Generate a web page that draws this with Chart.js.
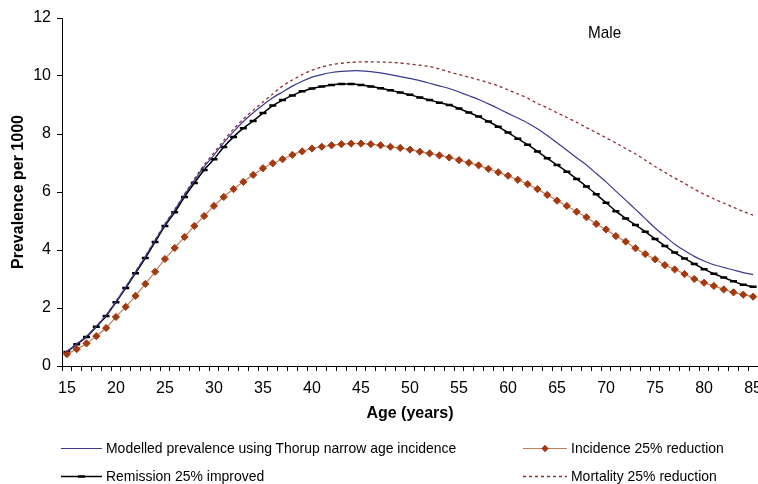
<!DOCTYPE html>
<html>
<head>
<meta charset="utf-8">
<script src="https://cdn.jsdelivr.net/npm/chart.js@4.4.1/dist/chart.umd.min.js"></script>
<style>
    html, body { margin: 0; padding: 0; background: #fff; }
    body { width: 758px; height: 484px; overflow: hidden; position: relative; }
    #wrap { position: absolute; left: 0; top: 0; width: 790px; height: 484px; }
    .txt { position: absolute; font-family: 'Liberation Sans Narrow', 'Liberation Sans', Arial, sans-serif; color: #000; white-space: nowrap; }
    #male { left: 588px; top: 23px; font-size: 17px; transform: scaleX(0.9); transform-origin: left center; }
    .leg { position: absolute; height: 20px; font-family: 'Liberation Sans Narrow', 'Liberation Sans', Arial, sans-serif; font-size: 15px; white-space: nowrap; }
    .leg svg { position: absolute; top: 0; }
    .leg span { position: absolute; top: 1px; transform: scaleX(0.93); transform-origin: left center; }
</style>
</head>
<body>
<div id="wrap"><canvas id="chart-area"></canvas></div>
<div class="txt" id="male">Male</div>
<div id="legend"></div>
<script>
// ages 15..85
var ages = [15, 16, 17, 18, 19, 20, 21, 22, 23, 24, 25, 26, 27, 28, 29, 30, 31, 32, 33, 34, 35,
    36, 37, 38, 39, 40, 41, 42, 43, 44, 45, 46, 47, 48, 49, 50, 51, 52, 53, 54, 55,
    56, 57, 58, 59, 60, 61, 62, 63, 64, 65, 66, 67, 68, 69, 70, 71, 72, 73, 74, 75,
    76, 77, 78, 79, 80, 81, 82, 83, 84, 85];

var modelled = [0.50, 0.76, 1.02, 1.37, 1.75, 2.22, 2.72, 3.24, 3.77, 4.33, 4.88, 5.38, 5.90, 6.40, 6.87, 7.27, 7.70, 8.08, 8.43, 8.73, 9.00,
    9.25, 9.45, 9.65, 9.82, 9.96, 10.05, 10.12, 10.16, 10.18, 10.18, 10.15, 10.11, 10.05, 9.98, 9.92, 9.84, 9.75, 9.66, 9.57, 9.45,
    9.32, 9.19, 9.04, 8.88, 8.71, 8.55, 8.38, 8.18, 7.95, 7.70, 7.44, 7.18, 6.93, 6.64, 6.35, 6.03, 5.72, 5.40, 5.08, 4.76,
    4.48, 4.20, 3.98, 3.78, 3.62, 3.49, 3.40, 3.31, 3.22, 3.15];

var incidence = [0.41, 0.58, 0.78, 1.03, 1.31, 1.69, 2.04, 2.42, 2.83, 3.25, 3.69, 4.07, 4.45, 4.83, 5.17, 5.52, 5.83, 6.10, 6.35, 6.59, 6.82,
    6.99, 7.13, 7.28, 7.40, 7.50, 7.56, 7.61, 7.65, 7.67, 7.67, 7.65, 7.61, 7.56, 7.52, 7.46, 7.39, 7.33, 7.26, 7.19, 7.10,
    7.01, 6.92, 6.80, 6.68, 6.56, 6.42, 6.27, 6.10, 5.90, 5.70, 5.52, 5.32, 5.13, 4.90, 4.71, 4.48, 4.29, 4.06, 3.86, 3.68,
    3.48, 3.33, 3.17, 3.00, 2.87, 2.76, 2.64, 2.54, 2.46, 2.39];

var remission = [0.48, 0.75, 1.00, 1.35, 1.72, 2.20, 2.69, 3.20, 3.72, 4.28, 4.83, 5.30, 5.83, 6.31, 6.76, 7.13, 7.55, 7.90, 8.20, 8.45, 8.72,
    8.98, 9.17, 9.33, 9.47, 9.57, 9.64, 9.69, 9.72, 9.72, 9.69, 9.64, 9.58, 9.51, 9.43, 9.35, 9.26, 9.17, 9.08, 9.00, 8.88,
    8.74, 8.60, 8.43, 8.25, 8.05, 7.84, 7.63, 7.40, 7.16, 6.93, 6.70, 6.45, 6.19, 5.92, 5.63, 5.34, 5.09, 4.86, 4.63, 4.38,
    4.14, 3.91, 3.71, 3.52, 3.34, 3.18, 3.05, 2.92, 2.80, 2.73];

var mortality = [0.50, 0.76, 1.02, 1.37, 1.75, 2.22, 2.72, 3.25, 3.78, 4.35, 4.90, 5.40, 5.93, 6.45, 6.93, 7.35, 7.78, 8.17, 8.52, 8.82, 9.10,
    9.38, 9.66, 9.86, 10.05, 10.20, 10.31, 10.39, 10.44, 10.47, 10.49, 10.49, 10.48, 10.47, 10.45, 10.41, 10.37, 10.33, 10.24, 10.14, 10.05,
    9.96, 9.87, 9.77, 9.66, 9.52, 9.38, 9.24, 9.05, 8.90, 8.73, 8.57, 8.40, 8.22, 8.05, 7.87, 7.69, 7.50, 7.31, 7.10, 6.88,
    6.68, 6.48, 6.30, 6.10, 5.92, 5.76, 5.62, 5.47, 5.33, 5.20];

var yTicks = [0, 2, 4, 6, 8, 10, 12];

var seriesLabels = ['Modelled prevalence using Thorup narrow age incidence', 'Incidence 25% reduction',
    'Remission 25% improved', 'Mortality 25% reduction'];

var narrow = "'Liberation Sans Narrow', 'Liberation Sans', Arial, sans-serif";

var config = {
    type: 'line',
    data: {
        labels: ages,
        datasets: [{
            label: seriesLabels[0],
            data: modelled,
            borderColor: '#3a3a90',
            borderWidth: 1.2,
            pointRadius: 0,
            tension: 0.2
        }, {
            label: seriesLabels[1],
            data: incidence,
            borderColor: '#c0805c',
            borderWidth: 1.2,
            pointStyle: 'rectRot',
            pointRadius: 3.6,
            pointBackgroundColor: '#a3390f',
            pointBorderColor: '#a3390f',
            pointBorderWidth: 1,
            tension: 0.2
        }, {
            label: seriesLabels[2],
            data: remission,
            borderColor: '#000',
            borderWidth: 1.5,
            pointStyle: 'line',
            pointRadius: 3.5,
            pointBorderColor: '#000',
            pointBorderWidth: 2.5,
            tension: 0.2
        }, {
            label: seriesLabels[3],
            data: mortality,
            borderColor: '#8e2d2d',
            borderWidth: 1.3,
            borderDash: [3, 3],
            pointRadius: 0,
            tension: 0.2
        }]
    },
    options: {
        responsive: true,
        maintainAspectRatio: false,
        animation: false,
        layout: {padding: {left: 0, top: 18, right: 32, bottom: 0}},
        plugins: {legend: {display: false}, tooltip: {enabled: false}},
        scales: {
            x: {
                type: 'category',
                offset: true,
                grid: {offset: true, drawOnChartArea: false, drawTicks: true, tickLength: 5, color: '#000'},
                border: {display: true, color: '#000', width: 1},
                ticks: {
                    autoSkip: false, maxRotation: 0, minRotation: 0, padding: 8, color: '#000',
                    font: {family: narrow, size: 16},
                    callback: function (val, idx) {
                        var a = ages[idx];
                        return a % 5 === 0 ? String(a) : '';
                    }
                },
                title: {display: true, text: 'Age (years)', color: '#000', font: {family: narrow, size: 16, weight: 'bold'}, padding: {top: 0, bottom: 61}},
                afterFit: function (scale) { scale.height = 118; }
            },
            y: {
                min: 0,
                max: 12,
                afterBuildTicks: function (axis) { axis.ticks = yTicks.map(function (v) { return {value: v}; }); },
                grid: {drawOnChartArea: false, drawTicks: true, tickLength: 5, color: '#000'},
                border: {display: true, color: '#000', width: 1},
                ticks: {padding: 6, color: '#000', font: {family: narrow, size: 16}},
                title: {display: true, text: 'Prevalence per 1000', color: '#000', font: {family: narrow, size: 16, weight: 'bold'}, padding: {top: 9, bottom: 0}},
                afterFit: function (scale) { scale.width = 62; }
            }
        }
    }
};

var ctx = document.getElementById('chart-area').getContext('2d');
var myChart = new Chart(ctx, config);

// legend built from datasets, placed like the original two-column layout
var legendSlots = [{x: 61, y: 438, w: 41}, {x: 523, y: 438, w: 44}, {x: 61, y: 466, w: 41}, {x: 523, y: 466, w: 44}];
var html = '';
myChart.data.datasets.forEach(function (ds, i) {
    var s = legendSlots[i];
    var mid = s.w / 2;
    var svg = '<svg width="' + s.w + '" height="20"><line x1="0" y1="10.5" x2="' + s.w + '" y2="10.5" stroke="' + ds.borderColor + '" stroke-width="' + ds.borderWidth + '"' + (ds.borderDash ? ' stroke-dasharray="' + ds.borderDash.join(',') + '"' : '') + '/>';
    if (ds.pointStyle === 'rectRot') svg += '<rect x="' + (mid - 2.6) + '" y="7.9" width="5.2" height="5.2" fill="' + ds.pointBackgroundColor + '" transform="rotate(45 ' + mid + ' 10.5)"/>';
    if (ds.pointStyle === 'line') svg += '<line x1="' + (mid - 3.5) + '" y1="10.5" x2="' + (mid + 3.5) + '" y2="10.5" stroke="#000" stroke-width="2.5"/>';
    svg += '</svg>';
    html += '<div class="leg" style="left:' + s.x + 'px;top:' + s.y + 'px;">' + svg + '<span style="left:' + (s.w + 4) + 'px;">' + ds.label + '</span></div>';
});
document.getElementById('legend').innerHTML = html;
</script>
</body>
</html>
